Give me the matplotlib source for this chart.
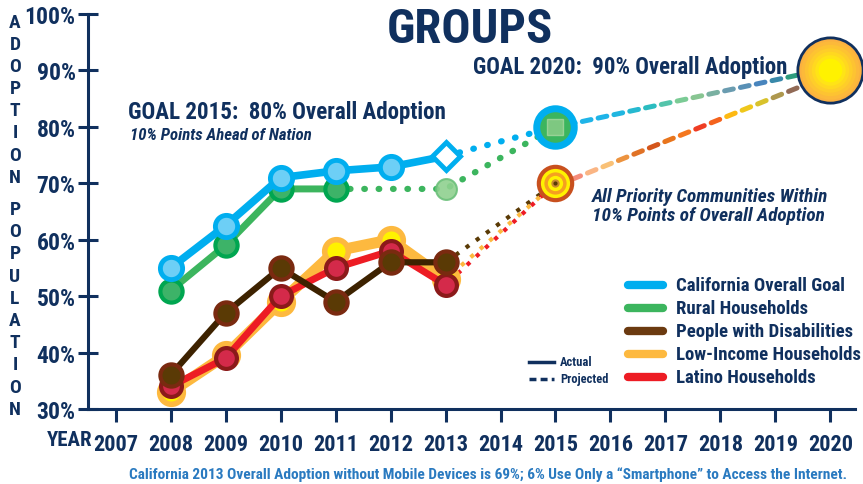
# plot.py
# Broadband adoption by group, with 2015 / 2020 goals

import numpy as np
import matplotlib.pyplot as plt
from matplotlib.colors import LinearSegmentedColormap

plt.rcParams['font.family'] = ['Roboto Condensed', 'DejaVu Sans']

NAVY = '#10305e'

# ---- data --------------------------------------------------------
years_actual = [2008, 2009, 2010, 2011, 2012, 2013]
california = [55, 62.5, 71, 72.2, 72.9, 74.8]
rural_years = [2008, 2009, 2010, 2011]
rural = [51, 59, 69, 69]
disabilities = [36, 47, 55, 49, 56, 56]
low_income = [33, 39.5, 49, 58, 60, 53]
latino = [34, 39, 50, 55, 58, 52]

rural_proj_years = [2011, 2013, 2015]
rural_proj = [69, 69, 80]
cal_proj_years = [2013, 2015]
cal_proj = [74.8, 80]
priority_goal_2015 = 70
overall_goal_2015 = 80
overall_goal_2020 = 90

year_ticks = list(range(2007, 2021))
pct_ticks = [30, 40, 50, 60, 70, 80, 90, 100]

legend_labels = ['California Overall Goal', 'Rural Households',
                 'People with Disabilities', 'Low-Income Households',
                 'Latino Households']
legend_colors = ['#00aeef', '#3cb55e', '#6b3a10', '#fdb93f', '#ed1c24']


def gradient_dashes(ax, x0, y0, x1, y1, colors, n, lw):
    # draws n dashes between two points, coloured along a gradient
    cmap = LinearSegmentedColormap.from_list('g', colors)
    for i in range(n):
        t0 = i / n
        t1 = t0 + 0.55 / n
        ax.plot([x0 + (x1 - x0) * t0, x0 + (x1 - x0) * t1],
                [y0 + (y1 - y0) * t0, y0 + (y1 - y0) * t1],
                color=cmap(i / (n - 1)), lw=lw, solid_capstyle='round',
                zorder=2)


def main():
    fig = plt.figure(figsize=(8.63, 4.85), dpi=100)
    ax = fig.add_axes([0.102, 0.1546, 0.889, 0.8145])
    ax.set_xlim(2006.5, 2020.45)
    ax.set_ylim(30, 100)

    # ---- projections --------------------------------------------
    ax.plot(cal_proj_years, cal_proj, color='#00aeef', lw=4.5,
            linestyle=(0, (0.1, 2.2)), dash_capstyle='round', zorder=2)
    ax.plot(rural_proj_years, rural_proj, color='#3cb55e', lw=4.5,
            linestyle=(0, (0.1, 2.2)), dash_capstyle='round', zorder=2)
    ax.plot([2013, 2015], [disabilities[-1], priority_goal_2015],
            color='#5a3a05', lw=3, linestyle=(0, (1, 2)), zorder=2)
    ax.plot([2013, 2015], [low_income[-1], priority_goal_2015],
            color='#fdb93f', lw=3, linestyle=(1, (1, 2)), zorder=2)
    ax.plot([2013, 2015], [latino[-1], priority_goal_2015],
            color='#ed1c24', lw=3, linestyle=(2, (1, 2)), zorder=2)

    gradient_dashes(ax, 2015.2, overall_goal_2015 + 0.35, 2019.8, overall_goal_2020,
                    ['#1fb4e8', '#1fb4e8', '#2bbcc0', '#8fcf8a', '#6a9cb0',
                     '#3f7fc0', '#22b050'], 16, 3.6)
    gradient_dashes(ax, 2015.3, priority_goal_2015 + 0.7, 2019.8, overall_goal_2020 - 1.5,
                    ['#f58c7a', '#fdd08a', '#e8842c', '#d4561c', '#f58a1e',
                     '#ee2a24', '#fdb913', '#e6d020', '#a08a5a', '#7a3a50'],
                    16, 3.6)

    # ---- actual lines --------------------------------------------
    ax.plot(years_actual, low_income, color='#fdb93f', lw=8,
            marker='o', ms=17, mfc='#fff200', mec='#fdb93f', mew=4,
            solid_joinstyle='round', zorder=3)
    ax.plot(years_actual, latino, color='#ed1c24', lw=5,
            marker='o', ms=15, mfc='#d42a4a', mec='#8b1a1a', mew=3,
            zorder=4)
    ax.plot(years_actual, disabilities, color='#3d2200', lw=4.5,
            marker='o', ms=16, mfc='#5a3a05', mec='#7a2a10', mew=3,
            zorder=5)
    ax.plot(rural_years, rural, color='#3cb55e', lw=5,
            marker='o', ms=16, mfc='#3db368', mec='#00a650', mew=3,
            zorder=5)
    ax.plot(years_actual[:-1], california[:-1], color='#00aeef', lw=5.5,
            marker='o', ms=16, mfc='#6dcff6', mec='#00aeef', mew=3.5,
            zorder=6)
    ax.plot(years_actual[-2:], california[-2:], color='#00aeef', lw=5.5,
            zorder=5)
    ax.plot([2013], [california[-1]], marker='D', ms=14, mfc='white',
            mec='#00aeef', mew=3.5, zorder=6)
    ax.plot([2013], [rural_proj[1]], marker='o', ms=15, mfc='#8fd18f',
            mec='#6cc07a', mew=1.5, alpha=0.9, zorder=5)

    # ---- goal markers --------------------------------------------
    ax.plot([2015], [overall_goal_2015], marker='o', ms=27, mfc='#3cb55e',
            mec='#00aeef', mew=5, zorder=7)
    ax.plot([2015], [overall_goal_2015], marker='s', ms=11, mfc='#8fce8a',
            mec='#a8d8a0', mew=1, alpha=0.8, zorder=8)
    for size, col in zip([27, 21, 16, 11, 6, 3],
                         ['#c8501e', '#fff200', '#f5a020', '#fff200', '#c88a30', '#5a3a05']):
        ax.plot([2015], [priority_goal_2015], marker='o', ms=size, mfc=col,
                mec='none', zorder=7)
    # sun: concentric discs from orange rim to yellow core
    sun_sizes = [47, 42, 37, 32, 27, 22, 17]
    sun_colors = ['#fbb040', '#fcb93a', '#fdc332', '#fecd2a', '#ffd820',
                  '#ffe416', '#fff200']
    for size, col in zip(sun_sizes, sun_colors):
        ax.plot([2020], [overall_goal_2020], marker='o', ms=size, mfc=col,
                mec=NAVY if size == 47 else 'none', mew=2, zorder=8,
                clip_on=False)

    # ---- axes styling --------------------------------------------
    for s in ['top', 'right']:
        ax.spines[s].set_visible(False)
    for s in ['left', 'bottom']:
        ax.spines[s].set_color(NAVY)
        ax.spines[s].set_linewidth(2.2)
    ax.set_xticks(year_ticks)
    ax.set_xticklabels([str(y) for y in year_ticks])
    ax.set_yticks(pct_ticks)
    ax.set_yticklabels([f'{p}%' for p in pct_ticks])
    ax.tick_params(axis='y', direction='inout', length=14, width=2.2,
                   color=NAVY, labelcolor=NAVY, labelsize=17, pad=2)
    ax.tick_params(axis='x', direction='out', length=9, width=2.2,
                   color=NAVY, labelcolor=NAVY, labelsize=16, pad=8)
    for lab in ax.get_xticklabels() + ax.get_yticklabels():
        lab.set_fontweight('bold')

    # ---- text ----------------------------------------------------
    fig.text(70 / 863, 1 - 441 / 485, 'YEAR', ha='center', va='center',
             fontsize=15, fontweight='bold', color=NAVY)
    word1, word2 = 'ADOPTION', 'POPULATION'
    for i, ch in enumerate(word1):
        fig.text(15 / 863, 1 - (23 + 22.1 * i) / 485, ch, ha='center',
                 va='center', fontsize=14, fontweight='bold', color=NAVY)
    for j, ch in enumerate(word2):
        fig.text(15 / 863, 1 - (210 + 22.2 * j) / 485, ch, ha='center',
                 va='center', fontsize=14, fontweight='bold', color=NAVY)

    fig.text(470 / 863, 1 - 30 / 485, 'GROUPS', ha='center', va='center',
             fontsize=35, fontweight='bold', color=NAVY)
    fig.text(128 / 863, 1 - 113 / 485, 'GOAL 2015:  80% Overall Adoption',
             ha='left', va='center', fontsize=16.6, fontweight='bold', color=NAVY)
    fig.text(130 / 863, 1 - 136 / 485, '10% Points Ahead of Nation',
             ha='left', va='center', fontsize=12.1, fontweight='bold',
             fontstyle='italic', color=NAVY)
    fig.text(473 / 863, 1 - 68 / 485, 'GOAL 2020:  90% Overall Adoption',
             ha='left', va='center', fontsize=16.4, fontweight='bold', color=NAVY)
    fig.text(592 / 863, 1 - 197 / 485, 'All Priority Communities Within',
             ha='left', va='center', fontsize=13.9, fontweight='bold',
             fontstyle='italic', color=NAVY)
    fig.text(592 / 863, 1 - 216 / 485, '10% Points of Overall Adoption',
             ha='left', va='center', fontsize=13.9, fontweight='bold',
             fontstyle='italic', color=NAVY)

    # ---- legend (drawn by hand to match the original) ------------
    for k, (lab, col) in enumerate(zip(legend_labels, legend_colors)):
        yy = 1 - (286 + 23 * k) / 485
        fig.add_artist(plt.Line2D([628 / 863, 663 / 863], [yy, yy], color=col,
                                  lw=6, solid_capstyle='round'))
        fig.text(676 / 863, yy, lab, ha='left', va='center', fontsize=13.5,
                 fontweight='bold', color=NAVY)
    fig.add_artist(plt.Line2D([529 / 863, 554 / 863], [1 - 363 / 485] * 2,
                              color=NAVY, lw=2.5))
    fig.add_artist(plt.Line2D([529 / 863, 554 / 863], [1 - 380 / 485] * 2,
                              color=NAVY, lw=2.5, linestyle=(0, (2, 1.2))))
    fig.text(560 / 863, 1 - 363 / 485, 'Actual', ha='left', va='center',
             fontsize=9, fontweight='bold', color=NAVY)
    fig.text(560 / 863, 1 - 380 / 485, 'Projected', ha='left', va='center',
             fontsize=9, fontweight='bold', color=NAVY)

    fig.text(488 / 863, 1 - 475 / 485,
             'California 2013 Overall Adoption without Mobile Devices is 69%; '
             '6% Use Only a \u201cSmartphone\u201d to Access the Internet.',
             ha='center', va='center', fontsize=11.05, fontweight='bold',
             color='#2a7ac0')

    fig.savefig('out.png', dpi=100)
    plt.close(fig)


if __name__ == '__main__':
    main()
